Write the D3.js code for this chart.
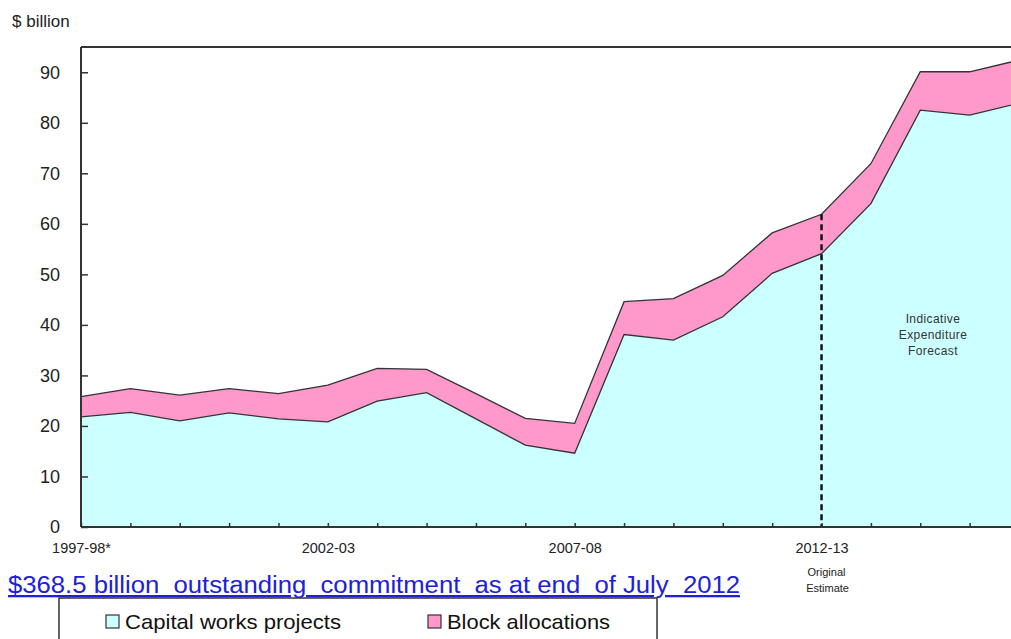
<!DOCTYPE html>
<html>
<head>
<meta charset="utf-8">
<script src="https://cdn.jsdelivr.net/npm/d3@7"></script>
<style>
  html, body { margin: 0; padding: 0; background: #fff; }
  svg { display: block; }
</style>
</head>
<body>
<svg id="chart" width="1011" height="639"></svg>
<script>
// ---- data ----
const categories = ["1997-98","1998-99","1999-00","2000-01","2001-02","2002-03","2003-04","2004-05","2005-06","2006-07",
                    "2007-08","2008-09","2009-10","2010-11","2011-12","2012-13","2013-14","2014-15","2015-16","2016-17"];
const capitalWorks = [21.8, 22.7, 21.0, 22.6, 21.4, 20.8, 24.9, 26.6, 21.4, 16.2,
                      14.6, 38.1, 37.0, 41.6, 50.2, 54.1, 64.0, 82.5, 81.5, 83.9];
const blockAllocations = [4.0, 4.7, 5.1, 4.8, 5.0, 7.3, 6.5, 4.6, 5.0, 5.3,
                          5.9, 6.5, 8.2, 8.2, 8.0, 7.8, 7.9, 7.6, 8.6, 8.5];
const xTickLabels = {"1997-98": "1997-98*", "2002-03": "2002-03", "2007-08": "2007-08", "2012-13": "2012-13"};
const yTicks = [0, 10, 20, 30, 40, 50, 60, 70, 80, 90];
const seriesNames = ["Capital works projects", "Block allocations"];
const seriesColors = ["#ccffff", "#ff99cc"];
const estimateYear = "2012-13";
const headline = "$368.5 billion  outstanding  commitment  as at end  of July  2012";

// ---- layout ----
const svg = d3.select("#chart");
const pL = 81, pR = 1019, pT = 47, pB = 527;
const x = d3.scalePoint().domain(categories).range([pL, pR]);
const y = d3.scaleLinear().domain([0, 95]).range([pB, pT]);

const rows = categories.map((c, i) => ({cat: c, capital: capitalWorks[i], block: blockAllocations[i]}));
const stack = d3.stack().keys(["capital", "block"]);
const layers = stack(rows);

const area = d3.area()
  .x(d => x(d.data.cat))
  .y0(d => y(d[0]))
  .y1(d => y(d[1]));
const topLine = d3.line().x(d => x(d.data.cat)).y(d => y(d[1]));

svg.append("g").selectAll("path.area")
  .data(layers).join("path")
  .attr("class", "area")
  .attr("d", area)
  .attr("fill", (d, i) => seriesColors[i]);

svg.append("g").selectAll("path.edge")
  .data(layers).join("path")
  .attr("class", "edge")
  .attr("d", topLine)
  .attr("fill", "none")
  .attr("stroke", "#333")
  .attr("stroke-width", 1.3);

// dashed estimate line
const estTotal = layers[1].find(d => d.data.cat === estimateYear)[1];
svg.append("line")
  .attr("x1", x(estimateYear)).attr("x2", x(estimateYear))
  .attr("y1", y(estTotal)).attr("y2", y(0))
  .attr("stroke", "#111").attr("stroke-width", 2.5)
  .attr("stroke-dasharray", "6,4");

// frame
svg.append("line").attr("x1", pL).attr("x2", 1011).attr("y1", pT).attr("y2", pT)
  .attr("stroke", "#333").attr("stroke-width", 2);

// y axis
const yAxis = d3.axisLeft(y).tickValues(yTicks).tickSize(-7).tickPadding(21).tickFormat(d3.format("d"));
const gy = svg.append("g").attr("transform", `translate(${pL},0)`).call(yAxis);
gy.select(".domain").attr("stroke", "#333").attr("stroke-width", 2).attr("d", `M0,${pT}V${pB}`);
gy.selectAll(".tick line").attr("stroke", "#333").attr("stroke-width", 1.5);
gy.selectAll(".tick text").attr("font-family", "Liberation Sans, Arial, sans-serif")
  .attr("font-size", 18).attr("fill", "#222");

// x axis
const xAxis = d3.axisBottom(x).tickSize(-4).tickPadding(18)
  .tickFormat(d => xTickLabels[d] || "");
const gx = svg.append("g").attr("transform", `translate(0,${pB})`).call(xAxis);
gx.select(".domain").attr("stroke", "#333").attr("stroke-width", 2).attr("d", `M${pL},0H1011`);
gx.selectAll(".tick line").attr("stroke", "#333").attr("stroke-width", 1.5);
gx.selectAll(".tick text").attr("font-family", "Liberation Sans, Arial, sans-serif")
  .attr("font-size", 14.5).attr("fill", "#222").attr("dy", "0.55em");

// sub label under estimate year
const subLab = svg.append("text")
  .attr("text-anchor", "middle")
  .attr("font-family", "Liberation Sans, Arial, sans-serif")
  .attr("font-size", 11).attr("fill", "#222");
subLab.append("tspan").attr("x", x(estimateYear) + 5).attr("y", 576).text("Original");
subLab.append("tspan").attr("x", x(estimateYear) + 6).attr("y", 592).text("Estimate");

// y label
svg.append("text").attr("x", 12).attr("y", 27)
  .attr("font-family", "Liberation Sans, Arial, sans-serif")
  .attr("font-size", 17).attr("fill", "#222").text("$ billion");

// annotation
const ann = svg.append("text")
  .attr("text-anchor", "middle")
  .attr("font-family", "Liberation Sans, Arial, sans-serif")
  .attr("font-size", 12).attr("letter-spacing", 0.4).attr("fill", "#333");
["Indicative", "Expenditure", "Forecast"].forEach((t, i) => {
  ann.append("tspan").attr("x", 933).attr("y", 323 + i * 16).text(t);
});

// headline
svg.append("text").attr("x", 8).attr("y", 593)
  .attr("font-family", "Liberation Sans, Arial, sans-serif")
  .attr("font-size", 23).attr("fill", "#2020d8")
  .attr("text-decoration", "underline")
  .attr("textLength", 732).attr("lengthAdjust", "spacingAndGlyphs")
  .style("white-space", "pre")
  .text(headline);

// legend
svg.append("rect").attr("x", 59).attr("y", 598).attr("width", 598).attr("height", 60)
  .attr("fill", "#fff").attr("stroke", "#333").attr("stroke-width", 1.5);
const legX = [106, 428];
const lg = svg.append("g").selectAll("g").data(seriesNames).join("g")
  .attr("transform", (d, i) => `translate(${legX[i]},615)`);
lg.append("rect").attr("width", 13).attr("height", 13)
  .attr("fill", (d, i) => seriesColors[i]).attr("stroke", "#333").attr("stroke-width", 1.2);
lg.append("text").attr("x", 19).attr("y", 13.5)
  .attr("font-family", "Liberation Sans, Arial, sans-serif")
  .attr("font-size", 21).attr("fill", "#111")
  .attr("textLength", (d, i) => i === 0 ? 216 : 163).attr("lengthAdjust", "spacingAndGlyphs")
  .text(d => d);
</script>
</body>
</html>
